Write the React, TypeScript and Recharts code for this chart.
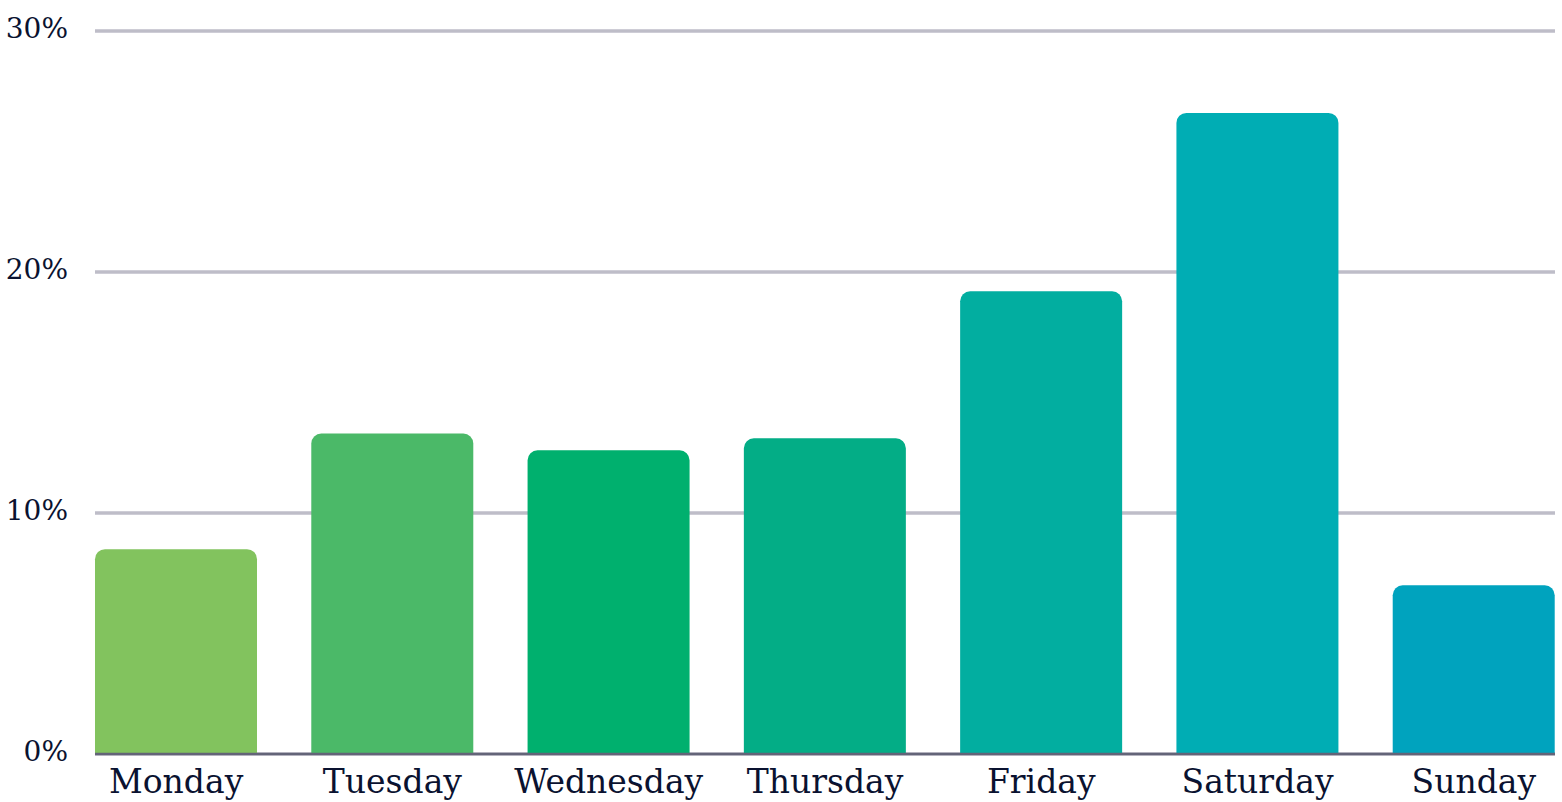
import { BarChart, Bar, XAxis, YAxis, CartesianGrid, Cell } from "recharts"

const days = ["Monday", "Tuesday", "Wednesday", "Thursday", "Friday", "Saturday", "Sunday"]
const shares = [8.5, 13.3, 12.6, 13.1, 19.2, 26.6, 7.0]
const barColors = ["#82c35e", "#4bb968", "#00b06e", "#03ad86", "#02aea0", "#00adb4", "#00a3be"]
const yTicks = [0, 10, 20, 30]

const textColor = "#0a1230"
const fontFamily = "'DejaVu Serif', serif"

export default function App() {
  const data = days.map((day, i) => ({ day, share: shares[i] }))

  return (
    <div style={{ position: "absolute", left: 0, top: 0, width: 1562, height: 802, background: "#fff" }}>
      <BarChart width={1562} height={802} data={data} margin={{ top: 31, right: 7, bottom: 0, left: 0 }} barCategoryGap={27}>
        <CartesianGrid vertical={false} stroke="#bebdc8" strokeWidth={3.5} />
        <XAxis
          dataKey="day"
          height={48}
          padding={{ left: -27, right: -27 }}
          tickLine={false}
          tickSize={0}
          tickMargin={16}
          axisLine={{ stroke: "#636478", strokeWidth: 2.5 }}
          tick={{ fill: textColor, fontSize: 33, fontFamily }}
          interval={0}
        />
        <YAxis
          width={95}
          domain={[0, 30]}
          ticks={yTicks}
          tickFormatter={(v: number) => `${v}%`}
          axisLine={false}
          tickLine={false}
          tickSize={0}
          tickMargin={27}
          tick={{ fill: textColor, fontSize: 28, fontFamily, dy: -3 }}
        />
        <Bar dataKey="share" radius={[10, 10, 0, 0]} isAnimationActive={false}>
          {data.map((entry, index) => (
            <Cell key={`cell-${index}`} fill={barColors[index]} />
          ))}
        </Bar>
      </BarChart>
    </div>
  )
}
